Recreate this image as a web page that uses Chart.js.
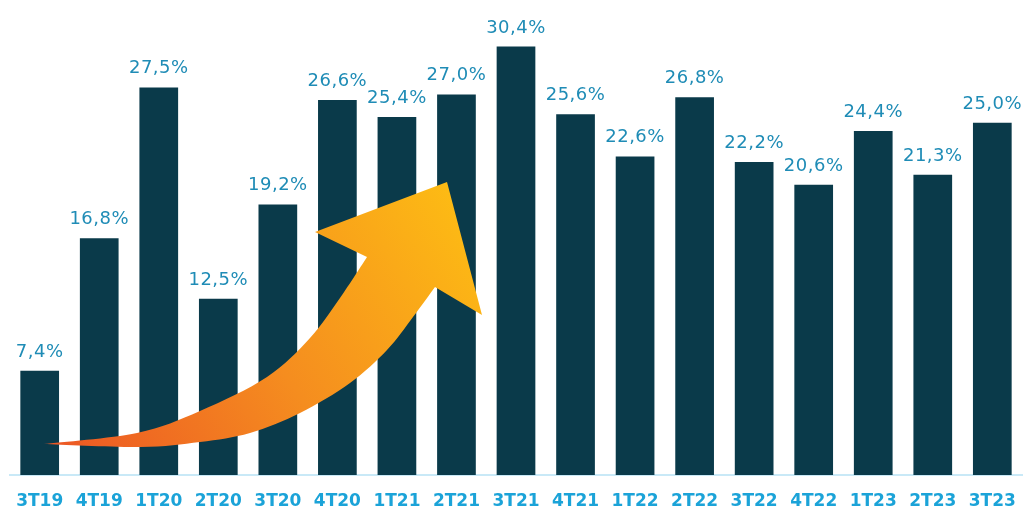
<!DOCTYPE html>
<html>
<head>
<meta charset="utf-8">
<script src="https://cdn.jsdelivr.net/npm/chart.js@4/dist/chart.umd.min.js"></script>
<style>
  html, body { margin: 0; padding: 0; background: #fff; }
  #wrap { width: 1032px; height: 513px; }
</style>
</head>
<body>
<div id="wrap"><canvas id="bar-chart"></canvas></div>
<script>
// trimestres y valores (%)
const trimestres = ["3T19", "4T19", "1T20", "2T20", "3T20", "4T20", "1T21", "2T21", "3T21",
                    "4T21", "1T22", "2T22", "3T22", "4T22", "1T23", "2T23", "3T23"]
const valores = [7.4, 16.8, 27.5, 12.5, 19.2, 26.6, 25.4, 27.0, 30.4,
                 25.6, 22.6, 26.8, 22.2, 20.6, 24.4, 21.3, 25.0]
const etiquetas = valores.map(v => v.toFixed(1).replace(".", ",") + "%")

// curva catmull-rom que pasa por los puntos
function trazoSuave(ctx, pts) {
  ctx.lineTo(pts[0][0], pts[0][1])
  for (let i = 0; i < pts.length - 1; i++) {
    const p0 = pts[Math.max(i - 1, 0)]
    const p1 = pts[i]
    const p2 = pts[i + 1]
    const p3 = pts[Math.min(i + 2, pts.length - 1)]
    ctx.bezierCurveTo(
      p1[0] + (p2[0] - p0[0]) / 6, p1[1] + (p2[1] - p0[1]) / 6,
      p2[0] - (p3[0] - p1[0]) / 6, p2[1] - (p3[1] - p1[1]) / 6,
      p2[0], p2[1])
  }
}

//* flecha decorativa (curva naranja)
const bordeSuperior = [[44, 444], [137, 433], [200, 411], [267, 377], [310, 338], [340, 298], [367, 257]]
const bordeInferior = [[435, 287], [413, 317], [387, 350], [350, 383], [300, 413], [250, 433], [200, 442], [140, 447], [44, 444]]

const flechaPlugin = {
  id: "flecha",
  afterDatasetsDraw(chart) {
    const ctx = chart.ctx
    ctx.save()
    const grad = ctx.createLinearGradient(45, 444, 448, 182)
    grad.addColorStop(0, "#ec5624")
    grad.addColorStop(0.5, "#f58d1f")
    grad.addColorStop(1, "#fdbb14")
    ctx.fillStyle = grad
    ctx.beginPath()
    ctx.moveTo(44, 444)
    trazoSuave(ctx, bordeSuperior)
    ctx.lineTo(315, 232)
    ctx.lineTo(447, 182)
    ctx.lineTo(482, 315)
    trazoSuave(ctx, bordeInferior)
    ctx.closePath()
    ctx.fill()
    ctx.restore()
  }
}

//* etiquetas de valor encima de cada barra
const valoresPlugin = {
  id: "valores",
  afterDatasetsDraw(chart) {
    const ctx = chart.ctx
    const meta = chart.getDatasetMeta(0)
    ctx.save()
    ctx.font = "18px 'DejaVu Sans'"
    ctx.letterSpacing = "0.5px"
    ctx.fillStyle = "#1f8cb6"
    ctx.textAlign = "center"
    ctx.textBaseline = "alphabetic"
    meta.data.forEach((bar, i) => {
      ctx.fillText(etiquetas[i], bar.x, bar.y - 14)
    })
    ctx.restore()
  }
}

const contenedor = document.querySelector("#bar-chart").getContext("2d")
const barChart = new Chart(contenedor, {
  type: "bar",
  data: {
    labels: trimestres,
    datasets: [{
      data: valores,
      backgroundColor: "#0a3a4a",
      barPercentage: 0.65,
      categoryPercentage: 1,
    }]
  },
  options: {
    responsive: true,
    maintainAspectRatio: false,
    animation: false,
    layout: { padding: { top: 0, left: 8, right: 7, bottom: 0 } },
    plugins: {
      legend: { display: false },
      tooltip: { enabled: false },
    },
    scales: {
      y: { display: false, min: 0, max: 33.7 },
      x: {
        grid: { display: false, drawTicks: false },
        border: { display: true, color: "#c9e9f7", width: 2 },
        afterFit(scale) { scale.height = 38 },
        ticks: {
          padding: 16,
          color: "#1ba3d8",
          font: { family: "'DejaVu Sans'", size: 17, weight: "bold" },
          maxRotation: 0,
          autoSkip: false,
        }
      }
    }
  },
  plugins: [flechaPlugin, valoresPlugin]
})
</script>
</body>
</html>
